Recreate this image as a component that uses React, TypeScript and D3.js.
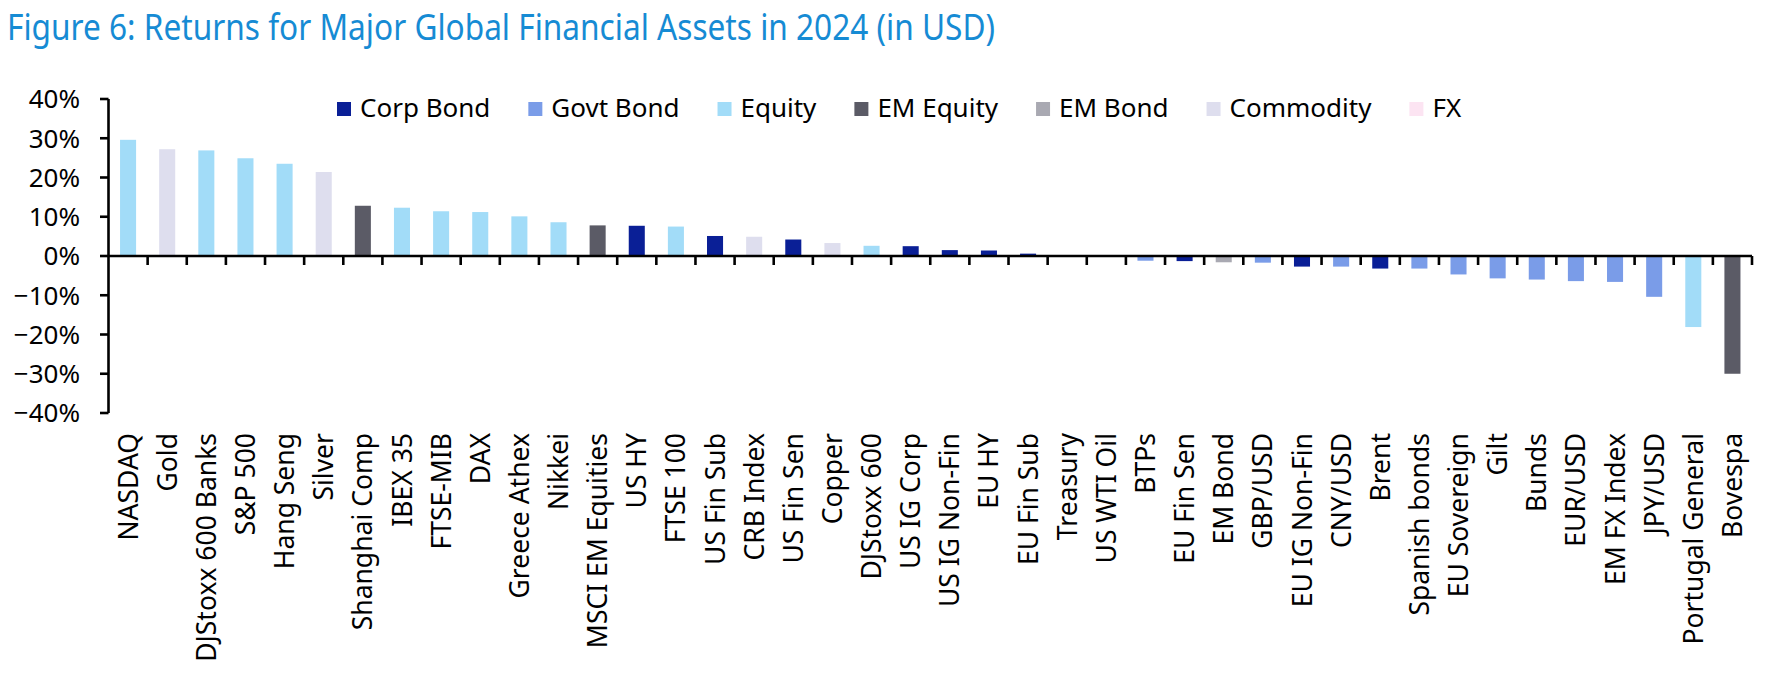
import React, { useMemo } from "react";
import * as d3 from "d3";

const categories = [
  "NASDAQ", "Gold", "DJStoxx 600 Banks", "S&P 500", "Hang Seng", "Silver", "Shanghai Comp",
  "IBEX 35", "FTSE-MIB", "DAX", "Greece Athex", "Nikkei", "MSCI EM Equities", "US HY",
  "FTSE 100", "US Fin Sub", "CRB Index", "US Fin Sen", "Copper", "DJStoxx 600", "US IG Corp",
  "US IG Non-Fin", "EU HY", "EU Fin Sub", "Treasury", "US WTI Oil", "BTPs", "EU Fin Sen",
  "EM Bond", "GBP/USD", "EU IG Non-Fin", "CNY/USD", "Brent", "Spanish bonds", "EU Sovereign",
  "Gilt", "Bunds", "EUR/USD", "EM FX Index", "JPY/USD", "Portugal General", "Bovespa",
];

const returns = [
  29.6, 27.2, 26.9, 24.9, 23.5, 21.4, 12.8,
  12.3, 11.4, 11.2, 10.1, 8.6, 7.8, 7.7,
  7.5, 5.1, 4.9, 4.2, 3.3, 2.6, 2.5,
  1.5, 1.4, 0.6, 0.25, 0.05, -1.2, -1.3,
  -1.6, -1.7, -2.7, -2.7, -3.2, -3.2, -4.7,
  -5.7, -6.0, -6.4, -6.6, -10.4, -18.1, -30.0,
];

const assetClass = [
  "Equity", "Commodity", "Equity", "Equity", "Equity", "Commodity", "EM Equity",
  "Equity", "Equity", "Equity", "Equity", "Equity", "EM Equity", "Corp Bond",
  "Equity", "Corp Bond", "Commodity", "Corp Bond", "Commodity", "Equity", "Corp Bond",
  "Corp Bond", "Corp Bond", "Corp Bond", "Govt Bond", "Commodity", "Govt Bond", "Corp Bond",
  "EM Bond", "Govt Bond", "Corp Bond", "Govt Bond", "Corp Bond", "Govt Bond", "Govt Bond",
  "Govt Bond", "Govt Bond", "Govt Bond", "Govt Bond", "Govt Bond", "Equity", "EM Equity",
];

const legendNames = ["Corp Bond", "Govt Bond", "Equity", "EM Equity", "EM Bond", "Commodity", "FX"];
const legendColors = ["#0a1f96", "#7a9ce8", "#a2dcf8", "#5b5b66", "#a9a9b2", "#dedeee", "#fce4f2"];

const yTicks = [40, 30, 20, 10, 0, -10, -20, -30, -40];

const W = 1766;
const H = 688;
const FONT = "'Noto Sans', 'Open Sans', sans-serif";

export default function App() {
  const x = d3.scaleBand<string>().domain(categories).range([108.5, 1752]).paddingInner(0.59).paddingOuter(0.295);
  const xb = d3.scaleBand<string>().domain(categories).range([108.5, 1752]);
  const y = d3.scaleLinear().domain([-40, 40]).range([413, 99]);
  const color = d3.scaleOrdinal<string, string>().domain(legendNames).range(legendColors);

  const legendLayout = useMemo(() => {
    const canvas = document.createElement("canvas");
    const ctx = canvas.getContext("2d")!;
    ctx.font = `26px ${FONT}`;
    let cx = 337;
    return legendNames.map((n) => {
      const w = ctx.measureText(n).width;
      const item = { n, x: cx };
      cx += 14 + 9 + w + 38;
      return item;
    });
  }, []);

  const y0 = y(0);

  return (
    <svg width={W} height={H} style={{ position: "absolute", left: 0, top: 0, background: "#fff" }}>
      <text x={7} y={40} fill="#168bd4" fontSize={37} textLength={988} lengthAdjust="spacingAndGlyphs" fontFamily="'Noto Sans', sans-serif">
        Figure 6: Returns for Major Global Financial Assets in 2024 (in USD)
      </text>

      {/* bars */}
      {categories.map((c, i) => {
        const v = returns[i];
        return (
          <rect key={c} x={x(c)!} width={x.bandwidth()} y={Math.min(y(v), y0)} height={Math.abs(y(v) - y0)} fill={color(assetClass[i])} />
        );
      })}

      {/* y axis */}
      <line x1={108.5} x2={108.5} y1={y(40)} y2={y(-40)} stroke="#000" strokeWidth={2.6} />
      {yTicks.map((t) => (
        <g key={t}>
          <line x1={100} x2={108.5} y1={y(t)} y2={y(t)} stroke="#000" strokeWidth={2.6} />
          <text x={80} y={y(t)} dy="0.36em" textAnchor="end" fontSize={26} fontFamily={FONT} fill="#000">
            {d3.format(".0f")(t) + "%"}
          </text>
        </g>
      ))}

      {/* x axis */}
      <line x1={108.5} x2={1752} y1={y0} y2={y0} stroke="#000" strokeWidth={2.6} />
      {categories.map((c) => (
        <line key={c} x1={xb(c)! + xb.bandwidth()} x2={xb(c)! + xb.bandwidth()} y1={y0} y2={y0 + 9} stroke="#000" strokeWidth={2.6} />
      ))}
      {categories.map((c) => {
        const cx = xb(c)! + xb.bandwidth() / 2;
        return (
          <text key={c} transform={`translate(${cx},433) rotate(-90)`} dy="0.36em" textAnchor="end" fontSize={26.5} fontFamily={FONT} fill="#000">
            {c}
          </text>
        );
      })}

      {/* legend */}
      {legendLayout.map((l, i) => (
        <g key={l.n}>
          <rect x={l.x} y={102} width={14} height={14} fill={legendColors[i]} />
          <text x={l.x + 23} y={117} fontSize={26} fontFamily={FONT} fill="#000">
            {l.n}
          </text>
        </g>
      ))}
    </svg>
  );
}
